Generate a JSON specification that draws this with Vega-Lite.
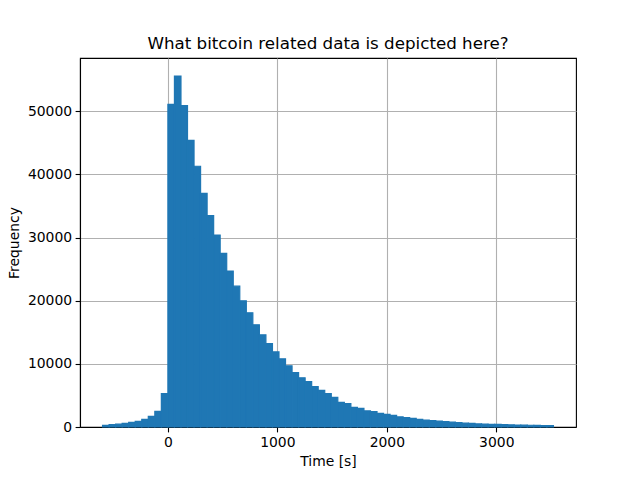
{
  "$schema": "https://vega.github.io/schema/vega-lite/v6.json",
  "width": 496,
  "height": 369,
  "autosize": {"type": "none"},
  "padding": {"left": 80, "top": 58, "right": 64, "bottom": 53},
  "background": "white",
  "title": {
    "text": "What bitcoin related data is depicted here?",
    "font": "DejaVu Sans",
    "fontSize": 16.7,
    "fontWeight": "normal",
    "color": "black",
    "baseline": "alphabetic",
    "offset": 9,
    "dy": 17
  },
  "config": {
    "view": {"stroke": "black", "strokeWidth": 1.1},
    "axis": {
      "labelFont": "DejaVu Sans",
      "titleFont": "DejaVu Sans",
      "labelFontSize": 13.9,
      "titleFontSize": 13.9,
      "titleFontWeight": "normal",
      "labelColor": "black",
      "titleColor": "black",
      "tickColor": "black",
      "tickSize": 4.9,
      "tickWidth": 1.1,
      "labelPadding": 3.5,
      "domainColor": "black",
      "domainWidth": 1.1,
      "gridColor": "#b0b0b0",
      "gridWidth": 1.1,
      "gridOpacity": 1,
      "zindex": 1
    }
  },
  "data": {
    "values": [
      {"start": -596.0, "end": -536.3, "count": 260},
      {"start": -536.3, "end": -476.6, "count": 390},
      {"start": -476.6, "end": -417.0, "count": 460},
      {"start": -417.0, "end": -357.3, "count": 580},
      {"start": -357.3, "end": -297.6, "count": 740},
      {"start": -297.6, "end": -237.9, "count": 900},
      {"start": -237.9, "end": -178.2, "count": 1210},
      {"start": -178.2, "end": -118.6, "count": 1690},
      {"start": -118.6, "end": -58.9, "count": 2480},
      {"start": -58.9, "end": 0.8, "count": 5300},
      {"start": 0.8, "end": 60.5, "count": 51100},
      {"start": 60.5, "end": 120.2, "count": 55600},
      {"start": 120.2, "end": 179.8, "count": 50900},
      {"start": 179.8, "end": 239.5, "count": 45400},
      {"start": 239.5, "end": 299.2, "count": 41300},
      {"start": 299.2, "end": 358.9, "count": 37000},
      {"start": 358.9, "end": 418.6, "count": 33500},
      {"start": 418.6, "end": 478.2, "count": 30400},
      {"start": 478.2, "end": 537.9, "count": 27500},
      {"start": 537.9, "end": 597.6, "count": 24700},
      {"start": 597.6, "end": 657.3, "count": 22300},
      {"start": 657.3, "end": 717.0, "count": 20000},
      {"start": 717.0, "end": 776.6, "count": 18100},
      {"start": 776.6, "end": 836.3, "count": 16200},
      {"start": 836.3, "end": 896.0, "count": 14600},
      {"start": 896.0, "end": 955.7, "count": 13200},
      {"start": 955.7, "end": 1015.4, "count": 11900},
      {"start": 1015.4, "end": 1075.0, "count": 10800},
      {"start": 1075.0, "end": 1134.7, "count": 9700},
      {"start": 1134.7, "end": 1194.4, "count": 8600},
      {"start": 1194.4, "end": 1254.1, "count": 7800},
      {"start": 1254.1, "end": 1313.8, "count": 7200},
      {"start": 1313.8, "end": 1373.4, "count": 6400},
      {"start": 1373.4, "end": 1433.1, "count": 5800},
      {"start": 1433.1, "end": 1492.8, "count": 5300},
      {"start": 1492.8, "end": 1552.5, "count": 4700},
      {"start": 1552.5, "end": 1612.2, "count": 3900},
      {"start": 1612.2, "end": 1671.8, "count": 3700},
      {"start": 1671.8, "end": 1731.5, "count": 3100},
      {"start": 1731.5, "end": 1791.2, "count": 2950},
      {"start": 1791.2, "end": 1850.9, "count": 2550},
      {"start": 1850.9, "end": 1910.6, "count": 2420},
      {"start": 1910.6, "end": 1970.2, "count": 2160},
      {"start": 1970.2, "end": 2029.9, "count": 2000},
      {"start": 2029.9, "end": 2089.6, "count": 1850},
      {"start": 2089.6, "end": 2149.3, "count": 1600},
      {"start": 2149.3, "end": 2209.0, "count": 1480},
      {"start": 2209.0, "end": 2268.6, "count": 1370},
      {"start": 2268.6, "end": 2328.3, "count": 1210},
      {"start": 2328.3, "end": 2388.0, "count": 1100},
      {"start": 2388.0, "end": 2447.7, "count": 1020},
      {"start": 2447.7, "end": 2507.4, "count": 940},
      {"start": 2507.4, "end": 2567.0, "count": 870},
      {"start": 2567.0, "end": 2626.7, "count": 780},
      {"start": 2626.7, "end": 2686.4, "count": 710},
      {"start": 2686.4, "end": 2746.1, "count": 620},
      {"start": 2746.1, "end": 2805.8, "count": 560},
      {"start": 2805.8, "end": 2865.4, "count": 490},
      {"start": 2865.4, "end": 2925.1, "count": 460},
      {"start": 2925.1, "end": 2984.8, "count": 430},
      {"start": 2984.8, "end": 3044.5, "count": 410},
      {"start": 3044.5, "end": 3104.2, "count": 380},
      {"start": 3104.2, "end": 3163.8, "count": 340},
      {"start": 3163.8, "end": 3223.5, "count": 320},
      {"start": 3223.5, "end": 3283.2, "count": 300},
      {"start": 3283.2, "end": 3342.9, "count": 280},
      {"start": 3342.9, "end": 3402.6, "count": 260},
      {"start": 3402.6, "end": 3462.2, "count": 240},
      {"start": 3462.2, "end": 3521.9, "count": 220}
    ]
  },
  "mark": {"type": "rect", "fill": "#1f77b4", "stroke": "#1f77b4", "strokeWidth": 1.2, "strokeJoin": "miter", "opacity": 1, "fillOpacity": 1, "strokeOpacity": 1},
  "encoding": {
    "x": {
      "field": "start",
      "type": "quantitative",
      "scale": {"domain": [-802, 3728], "nice": false, "zero": false},
      "axis": {"title": "Time [s]", "values": [0, 1000, 2000, 3000], "format": "d", "titlePadding": 5}
    },
    "x2": {"field": "end"},
    "y": {
      "field": "count",
      "type": "quantitative",
      "scale": {"domain": [0, 58450], "nice": false},
      "axis": {"title": "Frequency", "values": [0, 10000, 20000, 30000, 40000, 50000], "format": "d", "titlePadding": 6}
    },
    "y2": {"datum": 0}
  }
}
